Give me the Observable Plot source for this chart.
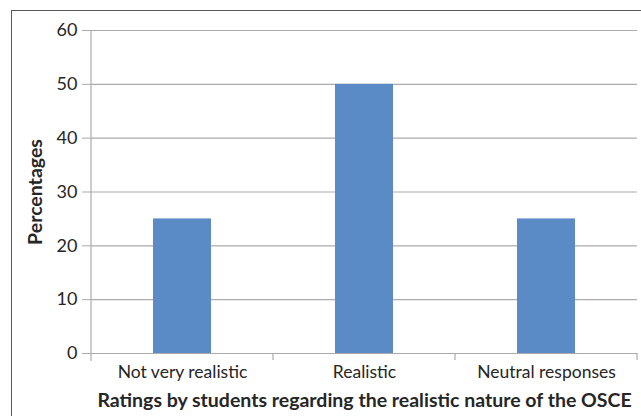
<!DOCTYPE html>
<html><head><meta charset="utf-8">
<script src="https://cdn.jsdelivr.net/npm/d3@7"></script>
<script src="https://cdn.jsdelivr.net/npm/@observablehq/plot@0.6"></script>
<style>
body{margin:0;background:#fff;}
#wrap{position:relative;width:641px;height:416px;overflow:hidden;}
#frame{position:absolute;left:11px;top:10px;width:700px;height:500px;border:1px solid #595959;box-sizing:border-box;}
#chart{position:absolute;left:0;top:0;}
</style></head><body><div id="wrap"><div id="frame"></div><div id="chart"></div></div>
<script>
const categories = ["Not very realistic", "Realistic", "Neutral responses"];
const percentages = [25, 50, 25];
const yTicks = [0, 10, 20, 30, 40, 50, 60];
const xTitle = "Ratings by students regarding the realistic nature of the OSCE";
const yTitle = "Percentages";

const data = categories.map((c, i) => ({category: c, value: percentages[i]}));
const gray = "#ababab";

function axisLines(index, scales, values, dim) {
  const g = d3.create("svg:g").attr("stroke", gray).attr("stroke-width", 1.2);
  const x0 = dim.marginLeft, x1 = dim.width - dim.marginRight;
  const yb = dim.height - dim.marginBottom;
  const step = (x1 - x0) / categories.length;
  g.append("line").attr("x1", x0).attr("x2", x0).attr("y1", dim.marginTop).attr("y2", yb + 8);
  for (let i = 1; i <= categories.length; i++) {
    const x = x0 + step * i;
    g.append("line").attr("x1", x).attr("x2", x).attr("y1", yb).attr("y2", yb + 7);
  }
  return g.node();
}

const chart = Plot.plot({
  width: 641,
  height: 416,
  marginLeft: 91,
  marginRight: 4,
  marginTop: 30,
  marginBottom: 63,
  style: {fontFamily: "Lato, sans-serif", fontSize: "17px", color: "#262626", background: "transparent"},
  x: {type: "band", domain: categories, paddingInner: 0.68, paddingOuter: 0.34, align: 0.5},
  y: {domain: [0, 60]},
  marks: [
    Plot.ruleY(yTicks, {stroke: gray, strokeWidth: 1.2}),
    Plot.barY(data, {x: "category", y: "value", fill: "#5b8bc6"}),
    Plot.axisY(yTicks, {tickSize: 9, tickPadding: 5, stroke: gray, label: null, fontSize: 18}),
    Plot.axisX({tickSize: 0, tickPadding: 12, label: null, fontSize: 17.5}),
    axisLines,
    Plot.text([yTitle], {frameAnchor: "left", textAnchor: "middle", lineAnchor: "middle", dx: -56, rotate: -90, fontWeight: "bold", fontSize: 19.5, fill: "#262626"}),
    Plot.text([xTitle], {frameAnchor: "bottom", textAnchor: "middle", lineAnchor: "middle", dy: 47, fontWeight: "bold", fontSize: 19.5, fill: "#262626"})
  ]
});
document.getElementById("chart").appendChild(chart);
</script>
</body></html>
